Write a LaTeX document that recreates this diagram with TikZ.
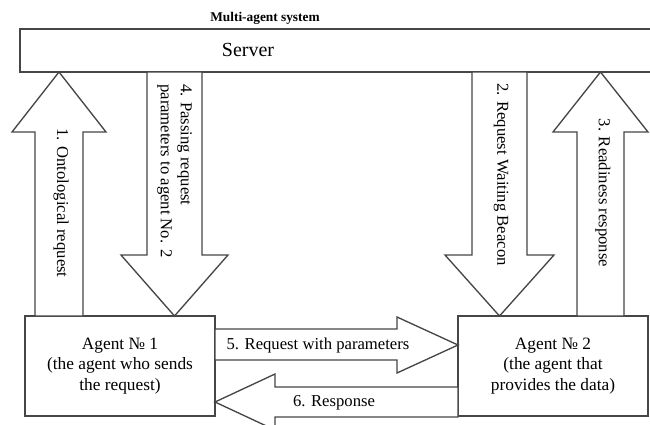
\documentclass[tikz,border=0pt]{standalone}
\usepackage{fontspec}
\setmainfont{Liberation Serif}
\definecolor{linegray}{RGB}{70,70,70}
\begin{document}
\begin{tikzpicture}[x=0.75pt,y=0.75pt,yscale=-1,xscale=1,
    box/.style={draw=linegray, line width=1pt, fill=white, inner sep=0pt, outer sep=0pt, align=center},
    blockarrow/.style={draw=linegray, line width=1pt, fill=white, line join=miter},
    lbl/.style={inner sep=0.75pt, font=\fontsize{12.5}{15}\selectfont}]
        \useasboundingbox (0,0) rectangle (650,425);
        %Shape: Rectangle (server)
        \draw (336,50.5) node [box, minimum width=474pt, minimum height=32.25pt] (server) {};
        %Shape: Rectangle (agent 1)
        \draw (120,366) node [box, minimum width=142.5pt, minimum height=75pt, font=\fontsize{13}{15.6}\selectfont] (agentA) {Agent № 1\\(the agent who sends\\the request)};
        %Shape: Rectangle (agent 2)
        \draw (553,366) node [box, minimum width=142.5pt, minimum height=75pt, font=\fontsize{13}{15.6}\selectfont] (agentB) {Agent № 2\\(the agent that\\provides the data)};

        %Shape: Up Arrow
        \draw [blockarrow] (server.south -| 59,0) -- (106,132) -- (83,132) -- (agentA.north -| 83,0) -- (agentA.north -| 35,0) -- (35,132) -- (12,132) -- cycle ;
        %Shape: Down Arrow
        \draw [blockarrow] (server.south -| 147,0) -- (147,255) -- (121,255) -- (agentA.north -| 174.5,0) -- (228,255) -- (202,255) -- (server.south -| 202,0) -- cycle ;
        %Shape: Down Arrow
        \draw [blockarrow] (server.south -| 472,0) -- (472,255) -- (445,255) -- (agentB.north -| 499.5,0) -- (554,255) -- (527,255) -- (server.south -| 527,0) -- cycle ;
        %Shape: Up Arrow
        \draw [blockarrow] (server.south -| 600.5,0) -- (648,132) -- (624,132) -- (agentB.north -| 624,0) -- (agentB.north -| 577,0) -- (577,132) -- (553,132) -- cycle ;
        %Shape: Right Arrow
        \draw [blockarrow] (agentA.east |- 0,329) -- (397,329) -- (397,317) -- (agentB.west |- 0,345) -- (397,373) -- (397,360) -- (agentA.east |- 0,360) -- cycle ;
        %Shape: Left Arrow
        \draw [blockarrow] (agentB.west |- 0,387) -- (275,387) -- (275,374) -- (agentA.east |- 0,402) -- (275,430) -- (275,417) -- (agentB.west |- 0,417) -- cycle ;

        % Text Node
        \draw (265,18) node [inner sep=0.75pt, font=\bfseries\fontsize{10}{12}\selectfont] (title) {Multi-agent system};
        % Text Node
        \draw (248,50) node [inner sep=0.75pt, font=\fontsize{15}{18}\selectfont] (serverlbl) {Server};
        % Text Node
        \draw (61,203) node [lbl, rotate=-90] (lblA) {1. Ontological request};
        % Text Node
        \draw (174.5,83) node [lbl, rotate=-90, anchor=west, align=left] (lblD) {4. Passing request\\parameters to agent No. 2};
        % Text Node
        \draw (501,82) node [lbl, rotate=-90, anchor=west] (lblB) {2. Request Waiting Beacon};
        % Text Node
        \draw (603,193) node [lbl, rotate=-90] (lblC) {3. Readiness response};
        % Text Node
        \draw (318,345) node [lbl] (lblE) {5. Request with parameters};
        % Text Node
        \draw (334,403) node [lbl] (lblF) {6. Response};
\end{tikzpicture}
\end{document}
